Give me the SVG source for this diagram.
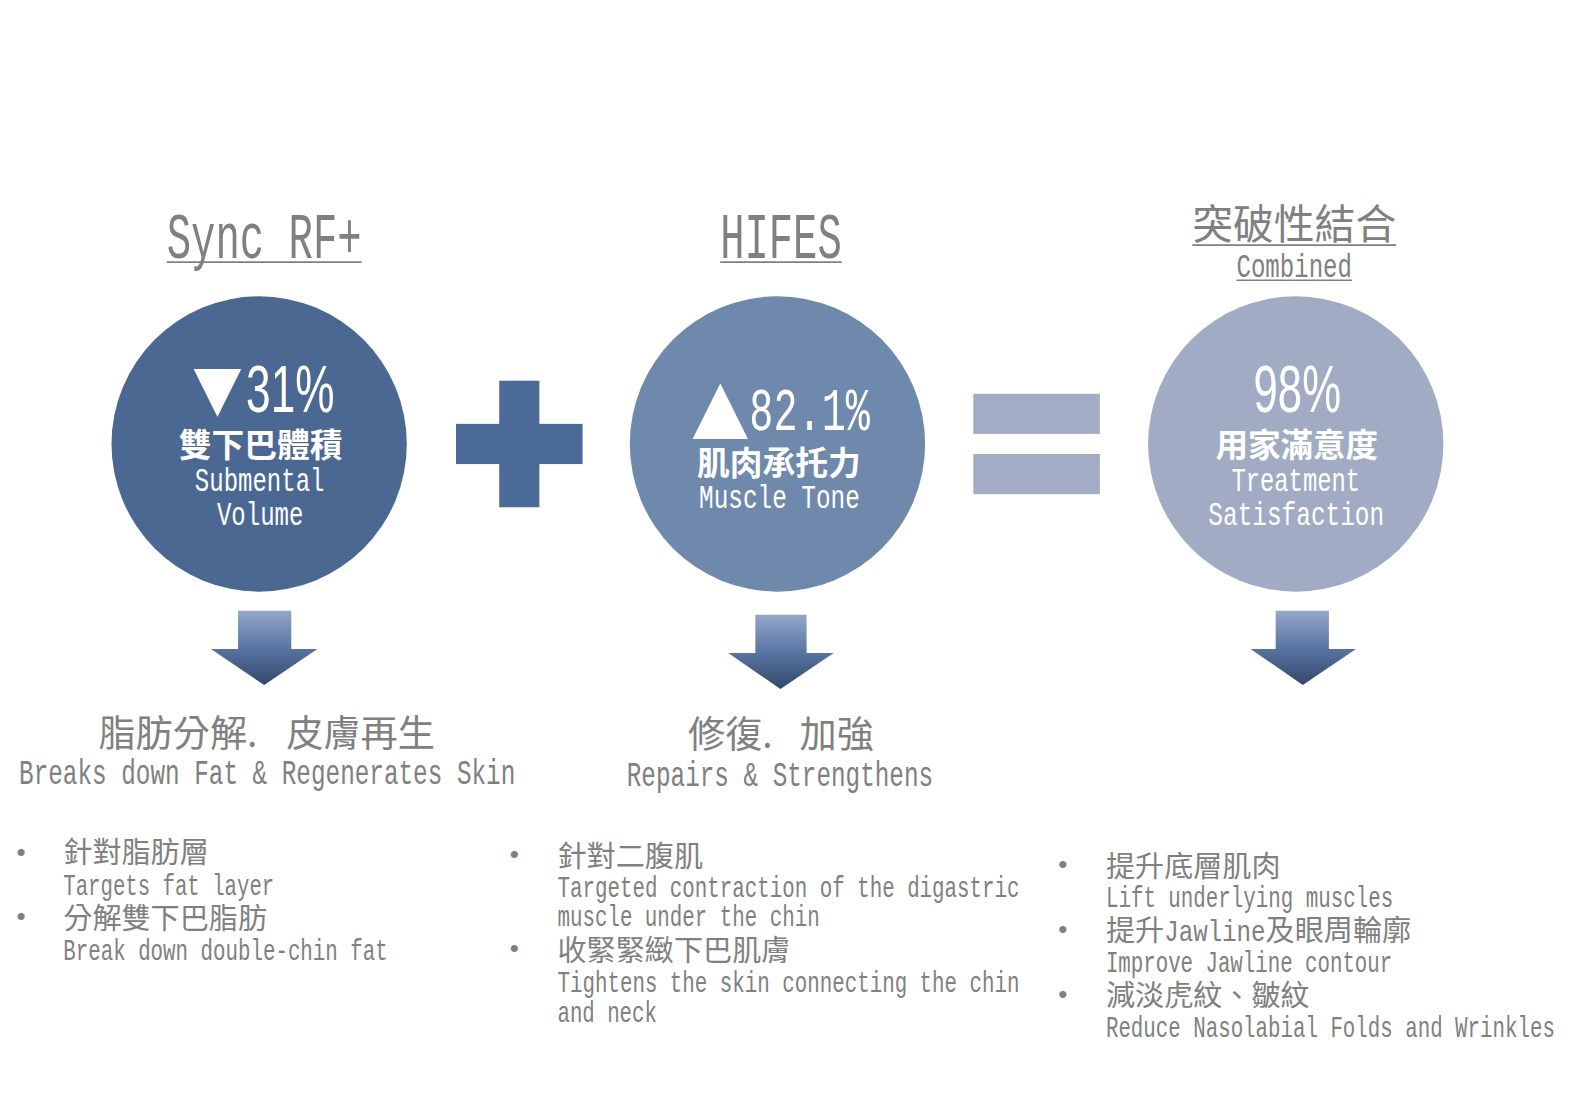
<svg xmlns="http://www.w3.org/2000/svg" width="1575" height="1093" viewBox="0 0 1575 1093">
<defs>
<linearGradient id="ag" x1="0" y1="0" x2="0" y2="1">
<stop offset="0" stop-color="#93a8c9"/>
<stop offset="0.5" stop-color="#5875a3"/>
<stop offset="1" stop-color="#33476a"/>
</linearGradient>
<style>
.en{font-family:"Liberation Mono","DejaVu Sans Mono",monospace;}
.cjk{font-family:"Noto Sans CJK TC","Noto Sans CJK SC",sans-serif;}
.num{font-family:"Liberation Sans",Arial,sans-serif;}
.gray{fill:#808080;}
.w{fill:#ffffff;}
.ul{stroke:#808080;stroke-width:1.6;}
.tri{font-family:"DejaVu Sans",sans-serif;fill:#ffffff;}
.dot{font-family:"Liberation Sans",Arial,sans-serif;font-size:26px;fill:#808080;}
</style>
</defs>
<rect width="1575" height="1093" fill="#ffffff"/>
<g transform="scale(1.00446)">
<g id="heading-syncrf">
<text class="en gray" x="166" y="257" font-size="64" textLength="194" lengthAdjust="spacingAndGlyphs">Sync RF+</text>
<line class="ul" x1="166" y1="261" x2="360" y2="261"/>
</g>
<g id="heading-hifes">
<text class="en gray" x="717" y="257" font-size="64" textLength="121" lengthAdjust="spacingAndGlyphs">HIFES</text>
<line class="ul" x1="717" y1="261" x2="838" y2="261"/>
</g>
<g id="heading-combined">
<text class="cjk gray" x="1187" y="238" font-size="40.6" textLength="203" lengthAdjust="spacingAndGlyphs">突破性結合</text>
<line class="ul" x1="1187" y1="244" x2="1390" y2="244"/>
<text class="en gray" x="1231" y="276" font-size="33" textLength="115" lengthAdjust="spacingAndGlyphs">Combined</text>
<line class="ul" x1="1231" y1="279" x2="1346" y2="279"/>
</g>

<g id="circle-syncrf">
<circle cx="258" cy="442" r="147" fill="#4a6891"/>
<text class="tri" x="216.5" y="407" font-size="62" text-anchor="middle">▼</text>
<text class="num w" x="245" y="410" font-size="67" textLength="88" lengthAdjust="spacingAndGlyphs">31%</text>
<text class="cjk w" x="178" y="455" font-size="32.6" font-weight="700" textLength="163" lengthAdjust="spacingAndGlyphs">雙下巴體積</text>
<text class="en w" x="194" y="489" font-size="33" textLength="129" lengthAdjust="spacingAndGlyphs">Submental</text>
<text class="en w" x="216" y="523" font-size="33" textLength="86" lengthAdjust="spacingAndGlyphs">Volume</text>
</g>

<g id="plus">
<rect x="497" y="379" width="40" height="126" fill="#4b6a98"/>
<rect x="454" y="422" width="126" height="40" fill="#4b6a98"/>
</g>

<g id="circle-hifes">
<circle cx="774" cy="442" r="147" fill="#6f89ad"/>
<text class="tri" x="717" y="428" font-size="72" text-anchor="middle">▲</text>
<text class="en w" x="746" y="428" font-size="61" textLength="120" lengthAdjust="spacingAndGlyphs">82.1%</text>
<text class="cjk w" x="694" y="473" font-size="32.6" font-weight="700" textLength="163" lengthAdjust="spacingAndGlyphs">肌肉承托力</text>
<text class="en w" x="696" y="506" font-size="33" textLength="160" lengthAdjust="spacingAndGlyphs">Muscle Tone</text>
</g>

<g id="equals">
<rect x="969" y="392" width="126" height="40" fill="#a2adc5"/>
<rect x="969" y="452" width="126" height="40" fill="#a2adc5"/>
</g>

<g id="circle-combined">
<circle cx="1290" cy="442" r="147" fill="#a1acc4"/>
<text class="num w" x="1248" y="410" font-size="67" textLength="87" lengthAdjust="spacingAndGlyphs">98%</text>
<text class="cjk w" x="1210" y="455" font-size="32.6" font-weight="700" textLength="162" lengthAdjust="spacingAndGlyphs">用家滿意度</text>
<text class="en w" x="1226" y="489" font-size="33" textLength="128" lengthAdjust="spacingAndGlyphs">Treatment</text>
<text class="en w" x="1203" y="523" font-size="33" textLength="175" lengthAdjust="spacingAndGlyphs">Satisfaction</text>
</g>

<g id="connectors">
<polygon points="237,608 290,608 290,646 316,646 263,682 210,646 237,646" fill="url(#ag)"/>
<polygon points="752,612 803,612 803,650 830,650 777,686 725,650 752,650" fill="url(#ag)"/>
<polygon points="1270,608 1323,608 1323,646 1350,646 1297,682 1245,646 1270,646" fill="url(#ag)"/>
</g>

<g id="result-syncrf">
<text class="cjk gray" font-size="37" y="744"><tspan x="98">脂肪分解.</tspan><tspan x="285">皮膚再生</tspan></text>
<text class="en gray" x="19" y="781" font-size="35" textLength="494" lengthAdjust="spacingAndGlyphs">Breaks down Fat &amp; Regenerates Skin</text>
</g>
<g id="result-hifes">
<text class="cjk gray" font-size="37" y="745"><tspan x="685">修復.</tspan><tspan x="796">加強</tspan></text>
<text class="en gray" x="624" y="783" font-size="35" textLength="305" lengthAdjust="spacingAndGlyphs">Repairs &amp; Strengthens</text>
</g>

<g id="list-syncrf">
<text class="dot" x="16.5" y="857">•</text>
<text class="cjk gray" x="63" y="859" font-size="29">針對脂肪層</text>
<text class="en gray" x="63" y="891" font-size="29" textLength="210" lengthAdjust="spacingAndGlyphs">Targets fat layer</text>
<text class="dot" x="16.5" y="921">•</text>
<text class="cjk gray" x="63" y="925" font-size="29">分解雙下巴脂肪</text>
<text class="en gray" x="63" y="956" font-size="29" textLength="323" lengthAdjust="spacingAndGlyphs">Break down double-chin fat</text>
</g>

<g id="list-hifes">
<text class="dot" x="507.5" y="859">•</text>
<text class="cjk gray" x="555" y="863" font-size="29">針對二腹肌</text>
<text class="en gray" x="555" y="893" font-size="29" textLength="460" lengthAdjust="spacingAndGlyphs">Targeted contraction of the digastric</text>
<text class="en gray" x="555" y="922" font-size="29" textLength="261" lengthAdjust="spacingAndGlyphs">muscle under the chin</text>
<text class="dot" x="507.5" y="953">•</text>
<text class="cjk gray" x="555" y="957" font-size="29">收緊緊緻下巴肌膚</text>
<text class="en gray" x="555" y="988" font-size="29" textLength="460" lengthAdjust="spacingAndGlyphs">Tightens the skin connecting the chin</text>
<text class="en gray" x="555" y="1017" font-size="29" textLength="99" lengthAdjust="spacingAndGlyphs">and neck</text>
</g>

<g id="list-combined">
<text class="dot" x="1053.5" y="869">•</text>
<text class="cjk gray" x="1101" y="873" font-size="29">提升底層肌肉</text>
<text class="en gray" x="1101" y="903" font-size="29" textLength="286" lengthAdjust="spacingAndGlyphs">Lift underlying muscles</text>
<text class="dot" x="1053.5" y="934">•</text>
<text class="gray" y="937" font-size="29"><tspan class="cjk" x="1101">提升</tspan><tspan class="en" x="1159" textLength="101" lengthAdjust="spacingAndGlyphs">Jawline</tspan><tspan class="cjk" x="1260">及眼周輪廓</tspan></text>
<text class="en gray" x="1101" y="968" font-size="29" textLength="285" lengthAdjust="spacingAndGlyphs">Improve Jawline contour</text>
<text class="dot" x="1053.5" y="999">•</text>
<text class="cjk gray" x="1101" y="1002" font-size="29">減淡虎紋、皺紋</text>
<text class="en gray" x="1101" y="1032" font-size="29" textLength="447" lengthAdjust="spacingAndGlyphs">Reduce Nasolabial Folds and Wrinkles</text>
</g>
</g>
</svg>
